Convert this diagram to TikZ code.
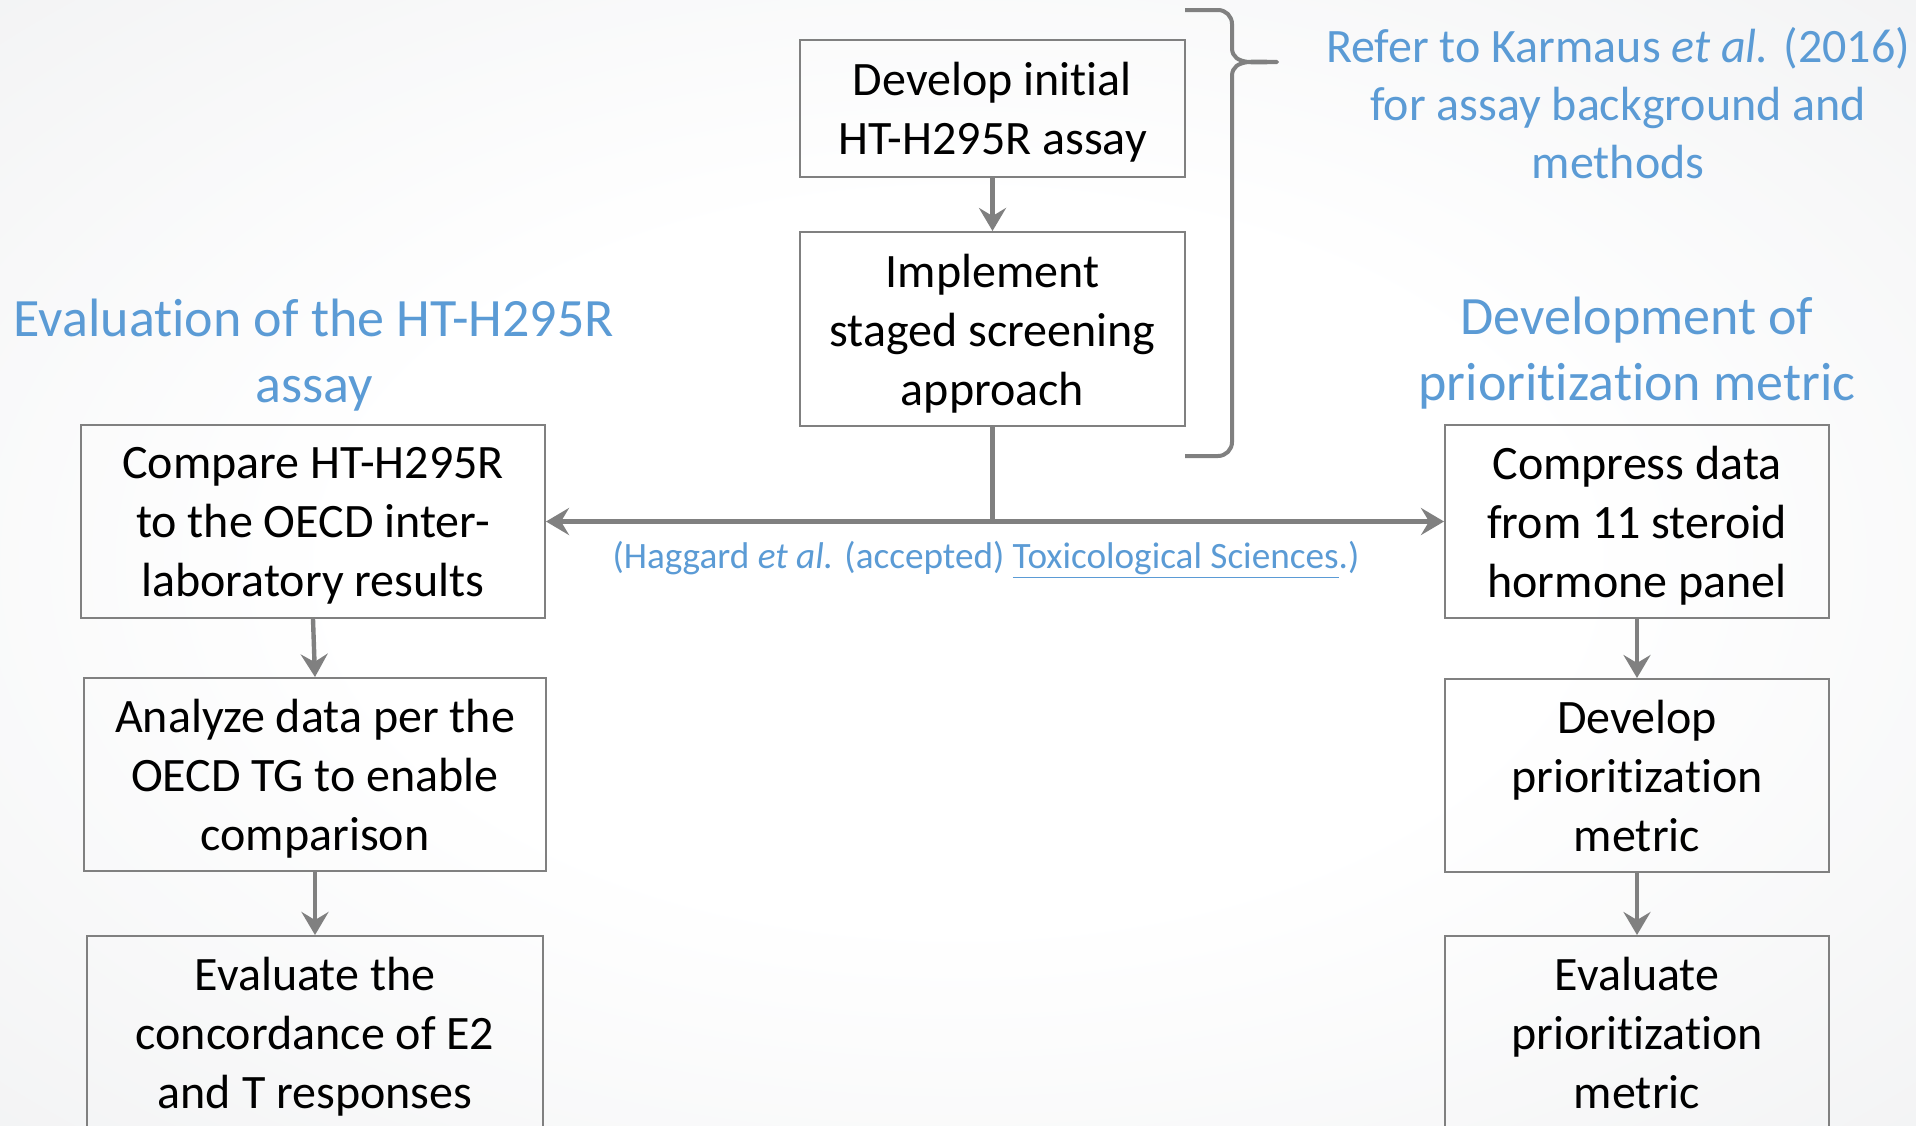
\documentclass[tikz,border=0pt]{standalone}
\usepackage{fontspec}
\setmainfont{Carlito}[Ligatures=NoCommon]
\usetikzlibrary{arrows.meta}
\definecolor{accentblue}{RGB}{91,155,213}
\definecolor{linegray}{RGB}{128,128,128}
\definecolor{bggray}{RGB}{233,234,236}
\pgfdeclareradialshading{bgshade}{\pgfpoint{0bp}{0bp}}{color(0bp)=(white); color(16bp)=(white); color(52bp)=(bggray); color(100bp)=(bggray)}
\begin{document}
\begin{tikzpicture}[x=0.5pt,y=-0.5pt,
  box/.style={draw=linegray, line width=1pt, inner sep=0pt},
  boxtext/.style={align=center, inner sep=0pt,
    font=\fontsize{24}{29.5}\selectfont,
    execute at begin node={\strut}, execute at end node={\strut}},
  arr/.style={draw=linegray, line width=2.2pt,
    -{Stealth[length=11.5pt,width=13.5pt,inset=4pt]}},
  conn/.style={draw=linegray, line width=2.2pt},
  bracestyle/.style={draw=linegray, line width=2pt, line join=round},
  bluetitle/.style={text=accentblue, align=center, inner sep=0pt,
    font=\fontsize{27}{33}\selectfont},
  refertext/.style={text=accentblue, align=center, inner sep=0pt,
    font=\fontsize{24}{29}\selectfont},
  citetext/.style={text=accentblue, inner sep=0pt,
    font=\fontsize{18.6}{22}\selectfont}
]
\useasboundingbox (0,0) rectangle (1916,1125);
\clip (0,0) rectangle (1916,1125);
\shade[shading=bgshade] (0,0) rectangle (1916,1125);

% top boxes
\node[box, minimum width=192.5pt, minimum height=68.5pt] (T1) at (992.5,108.5) {};
\node[box, minimum width=192.5pt, minimum height=97pt] (T2) at (992.5,329) {};
\node[boxtext] (T1t) at ([yshift=-4.4pt]T1.center) {Develop initial\\HT-H295R assay};
\node[boxtext] (T2t) at ([yshift=-4.6pt]T2.center) {Implement\\staged screening\\approach};

% left column
\node[box, minimum width=232pt, minimum height=96.5pt] (L1) at (313,521.5) {};
\node[box, minimum width=231pt, minimum height=96.5pt] (L2) at (315,774.5) {};
\node[box, minimum width=228pt, minimum height=96.5pt] (L3) at (315,1032.5) {};
\node[boxtext] (L1t) at ([yshift=-4.8pt]L1.center)
  {Compare HT-H295R\\to the OECD inter-\\laboratory results};
\node[boxtext] (L2t) at ([yshift=-4.8pt]L2.center)
  {Analyze data per the\\OECD TG to enable\\comparison};
\node[boxtext] (L3t) at ([yshift=-4.8pt]L3.center)
  {Evaluate the\\concordance of E2\\and T responses};

% right column
\node[box, minimum width=192pt, minimum height=96.5pt] (R1) at (1637,521.5) {};
\node[box, minimum width=192pt, minimum height=96.5pt] (R2) at (1637,775.5) {};
\node[box, minimum width=192pt, minimum height=96.5pt] (R3) at (1637,1032.5) {};
\node[boxtext] (R1t) at ([yshift=-4.8pt]R1.center)
  {Compress data\\from 11 steroid\\hormone panel};
\node[boxtext] (R2t) at ([yshift=-4.8pt]R2.center)
  {Develop\\prioritization\\metric};
\node[boxtext] (R3t) at ([yshift=-4.8pt]R3.center)
  {Evaluate\\prioritization\\metric};

% titles and notes
\node[bluetitle] (evaltitle) at (314,355) {Evaluation of the HT-H295R\\assay};
\node[bluetitle] (devtitle) at (1637,353.5) {Development of\\prioritization metric};
\node[refertext] (refer) at (1618,103)
  {Refer to Karmaus \textit{et al.} (2016)\\for assay background and\\methods};
\node[citetext] (cite) at (986,560)
  {(Haggard \textit{et al.} (accepted) \underline{Toxicological Sciences}.)};

% connectors
\coordinate (J) at (T2.south |- L1.east);
\draw[arr] (T1.south) -- (T2.north);
\draw[conn] (T2.south) -- (J);
\draw[arr] (J) -- (L1.east);
\draw[arr] (J) -- (R1.west);
\draw[arr] (L1.south) -- (L2.north);
\draw[arr] (L2.south) -- (L3.north);
\draw[arr] (R1.south) -- (R2.north);
\draw[arr] (R2.south) -- (R3.north);

% brace
\draw[bracestyle] (1185,10) -- (1218,10) to[out=0,in=90] (1232,24) -- (1232,48)
  to[out=-90,in=180] (1277,62) to[out=180,in=90] (1232,76) -- (1232,442)
  to[out=-90,in=0] (1218,456) -- (1185,456);
\end{tikzpicture}
\end{document}
